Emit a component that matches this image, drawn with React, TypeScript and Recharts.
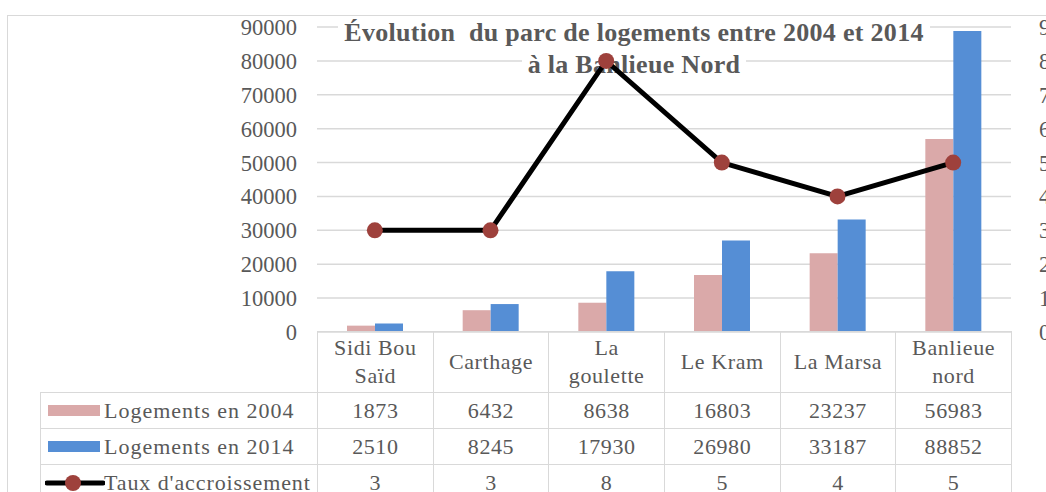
import { ComposedChart, Bar, Line, XAxis, YAxis, CartesianGrid } from "recharts"

const categories = ["Sidi Bou\nSaïd", "Carthage", "La\ngoulette", "Le Kram", "La Marsa", "Banlieue\nnord"]
const logements2004 = [1873, 6432, 8638, 16803, 23237, 56983]
const logements2014 = [2510, 8245, 17930, 26980, 33187, 88852]
const tauxAccroissement = [3, 3, 8, 5, 4, 5]
const leftTicks = [0, 10000, 20000, 30000, 40000, 50000, 60000, 70000, 80000, 90000]
const rightTicks = [0, 1, 2, 3, 4, 5, 6, 7, 8, 9]

const NAME_2004 = "Logements en 2004"
const NAME_2014 = "Logements en 2014"
const NAME_TAUX = "Taux d'accroissement"

const W = 1046
const H = 492
const PLOT_L = 317
const PLOT_R = 1011
const PLOT_T = 27
const PLOT_B = 332
const COL_W = (PLOT_R - PLOT_L) / categories.length

const PINK = "#DAA9A9"
const BLUE = "#558ED5"
const DOT = "#9E413C"
const GRID = "#D9D9D9"
const TEXT = "#595959"
const FONT = "'Liberation Serif', 'Times New Roman', serif"

const data = categories.map((c, i) => ({
  name: c,
  a: logements2004[i],
  b: logements2014[i],
  t: tauxAccroissement[i],
}))

const tickStyle = { fontFamily: FONT, fontSize: 22.5, fill: TEXT }

const cell: React.CSSProperties = {
  border: `1.5px solid ${GRID}`,
  textAlign: "center",
  padding: 0,
  fontFamily: FONT,
  fontSize: 22,
  letterSpacing: 0.6,
  color: TEXT,
  lineHeight: "28px",
  whiteSpace: "pre-line",
}

function Swatch({ kind }: { kind: "a" | "b" | "t" }) {
  if (kind === "t") {
    return (
      <svg width={60} height={20} style={{ position: "absolute", left: 4, top: 8 }}>
        <line x1={2} y1={10} x2={58} y2={10} stroke="#000" strokeWidth={5} strokeLinecap="round" />
        <circle cx={28} cy={10} r={8} fill={DOT} />
      </svg>
    )
  }
  return (
    <span
      style={{
        position: "absolute", left: 7, top: 12, width: 52, height: 11,
        backgroundColor: kind === "a" ? PINK : BLUE,
      }}
    />
  )
}

function DataTable() {
  const rows: { kind: "a" | "b" | "t"; label: string; values: number[] }[] = [
    { kind: "a", label: NAME_2004, values: logements2004 },
    { kind: "b", label: NAME_2014, values: logements2014 },
    { kind: "t", label: NAME_TAUX, values: tauxAccroissement },
  ]
  return (
    <table
      style={{
        position: "absolute", left: 40, top: PLOT_B - 1, borderCollapse: "collapse",
        tableLayout: "fixed", width: PLOT_R - 40,
      }}
    >
      <colgroup>
        <col style={{ width: PLOT_L - 40 }} />
        {categories.map((c) => <col key={c} style={{ width: COL_W }} />)}
      </colgroup>
      <tbody>
        <tr style={{ height: 61 }}>
          <td style={{ ...cell, border: "none" }} />
          {categories.map((c) => <td key={c} style={cell}>{c}</td>)}
        </tr>
        {rows.map((r) => (
          <tr key={r.label} style={{ height: 36 }}>
            <td
              style={{
                ...cell, position: "relative", textAlign: "left", paddingLeft: 63,
                letterSpacing: r.kind === "t" ? 0.9 : 1, whiteSpace: "nowrap",
              }}
            >
              <Swatch kind={r.kind} />
              {r.label}
            </td>
            {r.values.map((v, i) => <td key={i} style={cell}>{v}</td>)}
          </tr>
        ))}
      </tbody>
    </table>
  )
}

export default function App() {
  return (
    <div style={{ position: "relative", width: W, height: H, overflow: "hidden", background: "#fff" }}>
      <style>{"body{margin:0}"}</style>
      <div
        style={{
          position: "absolute", left: 7, top: 15, width: 1200, height: 700,
          border: `1.5px solid ${GRID}`,
        }}
      />

      {/* grid, left axis and bars */}
      <div style={{ position: "absolute", left: 0, top: 0 }}>
        <ComposedChart
          width={W} height={H} data={data} barGap={0}
          margin={{ top: PLOT_T, right: W - PLOT_R, bottom: H - PLOT_B, left: PLOT_L - 60 }}
        >
          <CartesianGrid vertical={false} stroke={GRID} strokeWidth={1.5} yAxisId="l" />
          <XAxis dataKey="name" hide />
          <YAxis
            yAxisId="l" domain={[0, 90000]} ticks={leftTicks} interval={0} width={60}
            axisLine={false} tickLine={false} tickSize={8} tickMargin={12} tick={tickStyle}
          />
          <Bar yAxisId="l" dataKey="a" name={NAME_2004} fill={PINK} barSize={28} isAnimationActive={false} />
          <Bar yAxisId="l" dataKey="b" name={NAME_2014} fill={BLUE} barSize={28} isAnimationActive={false} />
        </ComposedChart>
      </div>

      {/* title, its box covers the gridlines */}
      <div
        style={{
          position: "absolute", left: 0, top: 17, width: 1268, textAlign: "center",
          fontFamily: FONT, fontWeight: "bold", fontSize: 26, letterSpacing: 0.3,
          color: TEXT, lineHeight: "32px",
        }}
      >
        <span style={{ background: "#fff", padding: "0 6px", whiteSpace: "pre" }}>
          {"Évolution  du parc de logements entre 2004 et 2014"}
        </span>
        <br />
        <span style={{ background: "#fff", padding: "0 6px" }}>à la Banlieue Nord</span>
      </div>

      {/* rate line (right axis) on top of the title */}
      <div style={{ position: "absolute", left: 0, top: 0 }}>
        <ComposedChart
          width={W} height={H} data={data}
          margin={{ top: PLOT_T, right: 0, bottom: H - PLOT_B, left: PLOT_L }}
        >
          <XAxis dataKey="name" hide scale="band" />
          <YAxis
            yAxisId="r" orientation="right" domain={[0, 9]} ticks={rightTicks} interval={0} width={W - PLOT_R}
            axisLine={false} tickLine={false} tickSize={8} tickMargin={20}
            tick={{ ...tickStyle, textAnchor: "start" }}
          />
          <Line
            yAxisId="r" dataKey="t" name={NAME_TAUX} stroke="#000" strokeWidth={5}
            dot={{ r: 8, fill: DOT, stroke: DOT, strokeWidth: 0 }} activeDot={false}
            isAnimationActive={false}
          />
        </ComposedChart>
      </div>

      <DataTable />
    </div>
  )
}
